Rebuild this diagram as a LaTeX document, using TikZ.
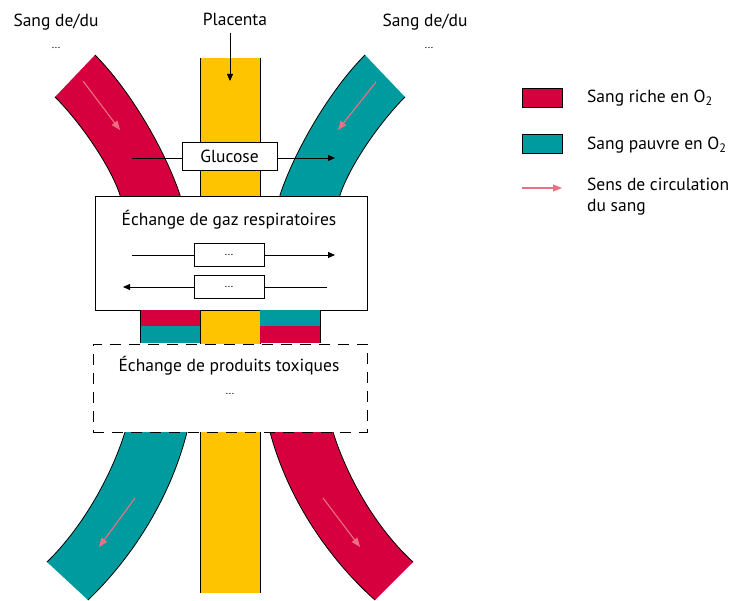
\documentclass[tikz,border=0pt]{standalone}
\usepackage{fontspec}
\setmainfont{PT Sans}
\usetikzlibrary{arrows.meta}
\definecolor{bred}{RGB}{214,0,62}
\definecolor{bteal}{RGB}{0,155,158}
\definecolor{byellow}{RGB}{255,196,0}
\definecolor{bpink}{RGB}{236,112,132}
\begin{document}
\begin{tikzpicture}[x=1pt,y=-1pt,
  lbl/.style={font=\fontsize{17.5}{21}\selectfont, inner sep=0pt},
  dots/.style={font=\fontsize{11}{12}\selectfont, inner sep=0pt},
  wbox/.style={draw, fill=white, line width=0.8pt, inner sep=0pt},
  blk/.style={-{Triangle[length=7pt,width=6pt]}, line width=0.8pt},
  pk/.style={-{Triangle[length=9pt,width=7pt]}, bpink, line width=1.1pt},
  side/.style={line width=0.8pt}]
\useasboundingbox (0,0) rectangle (731,601);
% placenta strip
\fill[byellow] (200,58) rectangle (260,593);
\draw[side] (200,58) -- (200,593) (260,58) -- (260,593);
% top bands
\fill[bred] (55,97) .. controls (80,122) and (110,165) .. (120,195) -- (121,205) -- (181,205) -- (180,195) .. controls (165,150) and (130,90) .. (95,55) -- cycle;
\draw[side] (55,97) .. controls (80,122) and (110,165) .. (120,195) -- (121,205);
\draw[side] (95,55) .. controls (130,90) and (165,150) .. (180,195) -- (181,205);
\fill[bteal] (405,97) .. controls (380,122) and (350,165) .. (340,195) -- (339,205) -- (279,205) -- (280,195) .. controls (295,150) and (330,90) .. (365,55) -- cycle;
\draw[side] (405,97) .. controls (380,122) and (350,165) .. (340,195) -- (339,205);
\draw[side] (365,55) .. controls (330,90) and (295,150) .. (280,195) -- (279,205);
% bottom bands
\fill[bteal] (125,425) -- (125,432) .. controls (110,480) and (80,530) .. (47,562) -- (88,600) .. controls (130,560) and (170,500) .. (187,432) -- (187,425) -- cycle;
\draw[side] (125,432) .. controls (110,480) and (80,530) .. (47,562);
\draw[side] (187,432) .. controls (170,500) and (130,560) .. (88,600);
\fill[bred] (333,425) -- (333,432) .. controls (348,480) and (378,530) .. (413,562) -- (375,600) .. controls (330,560) and (288,500) .. (270,432) -- (270,425) -- cycle;
\draw[side] (333,432) .. controls (348,480) and (378,530) .. (413,562);
\draw[side] (270,432) .. controls (288,500) and (330,560) .. (375,600);
% flow arrows
\coordinate (f1a) at (83,81); \coordinate (f1b) at (120,130);
\coordinate (f2a) at (376,82); \coordinate (f2b) at (338,130);
\coordinate (f3a) at (135,498); \coordinate (f3b) at (99,547);
\coordinate (f4a) at (323,498); \coordinate (f4b) at (360,547);
\draw[pk] (f1a) -- (f1b);
\draw[pk] (f2a) -- (f2b);
\draw[pk] (f3a) -- (f3b);
\draw[pk] (f4a) -- (f4b);
% labels top
\node[lbl] (placenta) at (235,19) {Placenta};
\coordinate (plc) at (230,81);
\draw[blk] (230,33) -- (plc);
\node[lbl] (sl) at (56,22) {Sang de/du};
\node[dots] (sld) at (56,48) {...};
\node[lbl] (sr) at (425,22) {Sang de/du};
\node[dots] (srd) at (429,48) {...};
% glucose
\coordinate (ga) at (132,158); \coordinate (gb) at (335,158);
\draw[blk] (ga) -- (gb);
\node[wbox, lbl, draw, fill=white, line width=0.8pt, minimum width=95pt, minimum height=28pt] (glucose) at (229.5,156) {Glucose};
% gas exchange box
\node[wbox, minimum width=272pt, minimum height=114pt] (gaz) at (231,253) {};
\node[lbl] (gaztitle) at (229,220) {Échange de gaz respiratoires};
\coordinate (a1) at (132,255); \coordinate (b1) at (335,255);
\coordinate (a2) at (327,287); \coordinate (b2) at (123,287);
\draw[blk] (a1) -- (b1);
\draw[blk] (a2) -- (b2);
\node[wbox, dots, minimum width=70pt, minimum height=23pt] (g1) at (229,254.5) {...};
\node[wbox, dots, minimum width=70pt, minimum height=23pt] (g2) at (229,286.5) {...};
% coloured blocks under the box
\fill[bred] (140,310.4) rectangle (200,326.5);
\fill[bteal] (140,326.5) rectangle (200,343);
\fill[bteal] (260,310.4) rectangle (320,326.5);
\fill[bred] (260,326.5) rectangle (320,343);
\draw[line width=0.4pt] (140,310.4) -- (140,343) (320,310.4) -- (320,343);
% toxic exchange box
\node[fill=white, draw, line width=0.9pt, dash pattern=on 11pt off 8pt, minimum width=274pt, minimum height=88pt, inner sep=0pt] (tox) at (230,388) {};
\node[lbl] (toxtitle) at (229,366) {Échange de produits toxiques};
\node[dots] (toxd) at (230,394) {...};
% legend
\node[draw, fill=bred, line width=0.8pt, minimum width=40pt, minimum height=19pt, inner sep=0pt] (lr) at (542,97.5) {};
\node[draw, fill=bteal, line width=0.8pt, minimum width=40pt, minimum height=19pt, inner sep=0pt] (lt) at (542,144) {};
\coordinate (la) at (522,188); \coordinate (lb) at (562,188);
\draw[pk] (la) -- (lb);
\node[lbl, anchor=west] (tr) at (587,98) {Sang riche en O\textsubscript{2}};
\node[lbl, anchor=west] (tt) at (587,145) {Sang pauvre en O\textsubscript{2}};
\node[lbl, anchor=north west, align=left] (tf) at (587,178) {Sens de circulation\\du sang};
\end{tikzpicture}
\end{document}
